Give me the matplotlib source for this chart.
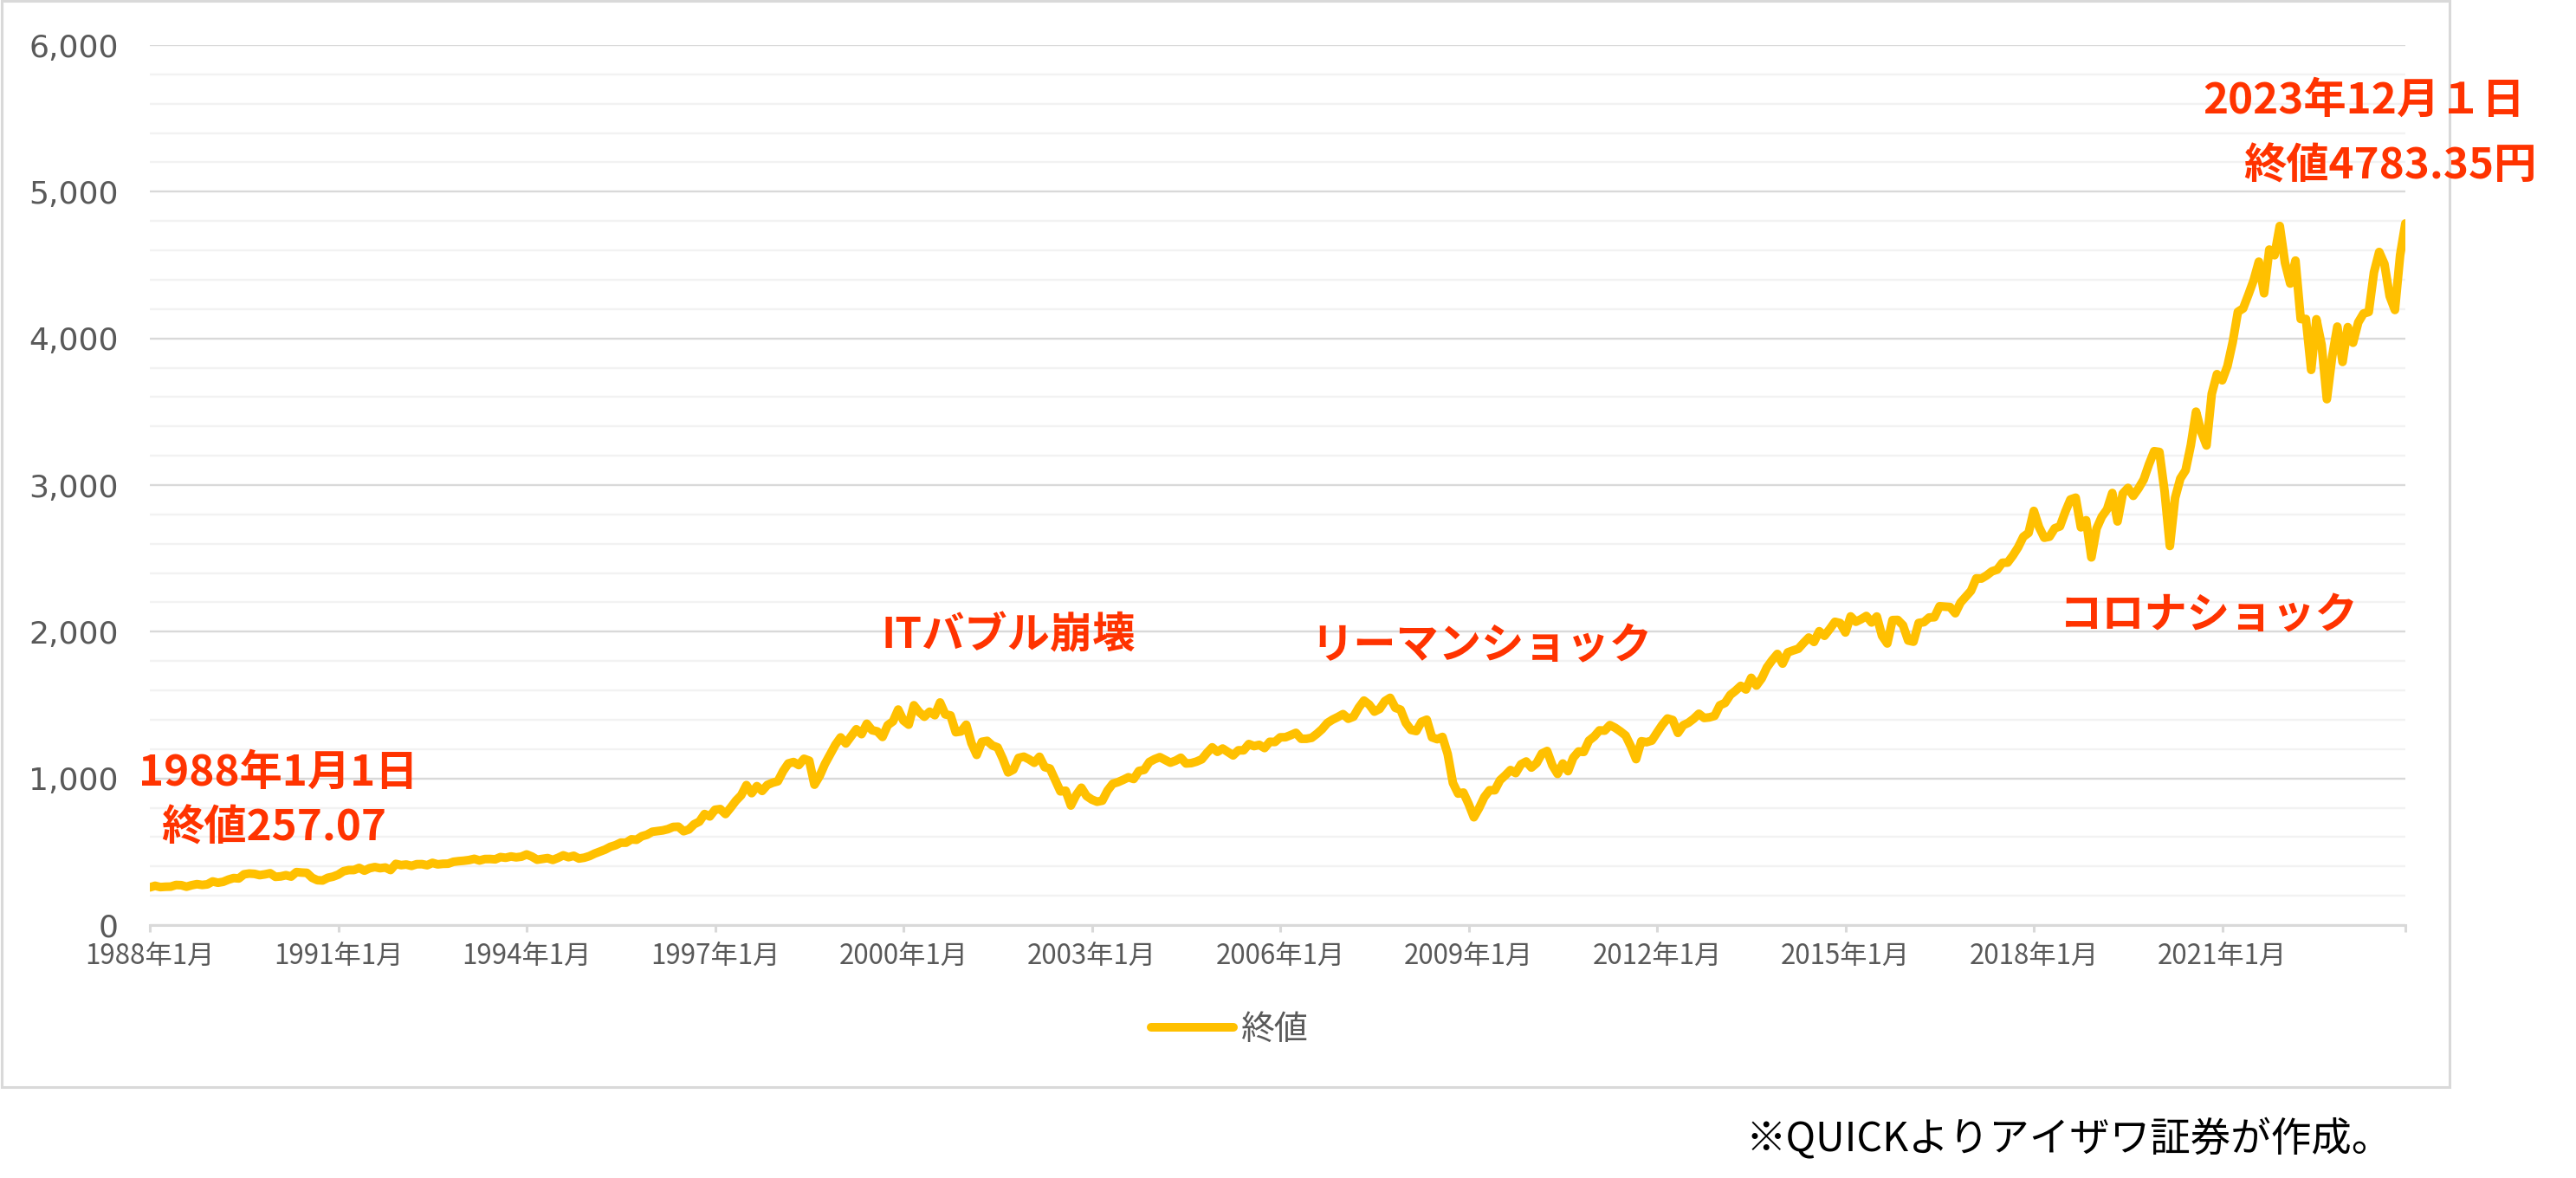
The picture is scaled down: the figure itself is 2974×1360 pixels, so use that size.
import numpy as np
import pandas as pd
import matplotlib
matplotlib.use("Agg")
import matplotlib.pyplot as plt
from matplotlib.patches import Rectangle
from matplotlib.ticker import MultipleLocator, FixedLocator

plt.rcParams['font.family'] = ['Noto Sans CJK JP', 'DejaVu Sans']

# ---------------- data (monthly closes, Jan 1988 - Dec 2023) ----------------
close_1988_1993 = [
    257.07, 267.82, 258.89, 261.33, 262.16, 273.50, 272.02, 261.52, 271.91, 278.97, 273.70, 277.72,
    297.47, 288.86, 294.87, 309.64, 320.52, 317.98, 346.08, 351.45, 349.15, 340.36, 345.99, 353.40,
    329.08, 331.89, 339.94, 330.80, 361.23, 358.02, 356.15, 322.56, 306.05, 304.00, 322.22, 330.22,
    343.93, 367.07, 375.22, 375.35, 389.83, 371.16, 387.81, 395.43, 387.86, 392.46, 375.22, 417.09,
    408.79, 412.70, 403.69, 414.95, 415.35, 408.14, 424.21, 414.03, 417.80, 418.68, 431.35, 435.71,
    438.78, 443.38, 451.67, 440.19, 450.19, 450.53, 448.13, 463.56, 458.93, 467.83, 461.79, 466.45,
]
close_1994_1999 = [
    481.61, 467.14, 445.77, 450.91, 456.50, 444.27, 458.26, 475.49, 462.69, 472.35, 453.69, 459.27,
    470.42, 487.39, 500.71, 514.71, 533.40, 544.75, 562.06, 561.88, 584.41, 581.50, 605.37, 615.93,
    636.02, 640.43, 645.50, 654.17, 669.12, 670.63, 639.95, 651.99, 687.33, 705.27, 757.02, 740.74,
    786.16, 790.82, 757.12, 801.34, 848.28, 885.14, 954.29, 899.47, 947.28, 914.62, 955.40, 970.43,
    980.28, 1049.34, 1101.75, 1111.75, 1090.82, 1133.84, 1120.67, 957.28, 1017.01, 1098.67, 1163.63, 1229.23,
    1279.64, 1238.33, 1286.37, 1335.18, 1301.84, 1372.71, 1328.72, 1320.41, 1282.71, 1362.93, 1388.91, 1469.25,
]
close_2000_2005 = [
    1394.46, 1366.42, 1498.58, 1452.43, 1420.60, 1454.60, 1430.83, 1517.68, 1436.51, 1429.40, 1314.95, 1320.28,
    1366.01, 1239.94, 1160.33, 1249.46, 1255.82, 1224.42, 1211.23, 1133.58, 1040.94, 1059.78, 1139.45, 1148.08,
    1130.20, 1106.73, 1147.39, 1076.92, 1067.14, 989.82, 911.62, 916.07, 815.28, 885.76, 936.31, 879.82,
    855.70, 841.15, 848.18, 916.92, 963.59, 974.50, 990.31, 1008.01, 995.97, 1050.71, 1058.20, 1111.92,
    1131.13, 1144.94, 1126.21, 1107.30, 1120.68, 1140.84, 1101.72, 1104.24, 1114.58, 1130.20, 1173.82, 1211.92,
    1181.27, 1203.60, 1180.59, 1156.85, 1191.50, 1191.33, 1234.18, 1220.33, 1228.81, 1207.01, 1249.48, 1248.29,
]
close_2006_2011 = [
    1280.08, 1280.66, 1294.83, 1310.61, 1270.09, 1270.20, 1276.66, 1303.82, 1335.85, 1377.94, 1400.63, 1418.30,
    1438.24, 1406.82, 1420.86, 1482.37, 1530.62, 1503.35, 1455.27, 1473.99, 1526.75, 1549.38, 1481.14, 1468.36,
    1378.55, 1330.63, 1322.70, 1385.59, 1400.38, 1280.00, 1267.38, 1282.83, 1166.36, 968.75, 896.24, 903.25,
    825.88, 735.09, 797.87, 872.81, 919.14, 919.32, 987.48, 1020.62, 1057.08, 1036.19, 1095.63, 1115.10,
    1073.87, 1104.49, 1169.43, 1186.69, 1089.41, 1030.71, 1101.60, 1049.33, 1141.20, 1183.26, 1180.55, 1257.64,
    1286.12, 1327.22, 1325.83, 1363.61, 1345.20, 1320.64, 1292.28, 1218.89, 1131.42, 1253.30, 1246.96, 1257.60,
]
close_2012_2017 = [
    1312.41, 1365.68, 1408.47, 1397.91, 1310.33, 1362.16, 1379.32, 1406.58, 1440.67, 1412.16, 1416.18, 1426.19,
    1498.11, 1514.68, 1569.19, 1597.57, 1630.74, 1606.28, 1685.73, 1632.97, 1681.55, 1756.54, 1805.81, 1848.36,
    1782.59, 1859.45, 1872.34, 1883.95, 1923.57, 1960.23, 1930.67, 2003.37, 1972.29, 2018.05, 2067.56, 2058.90,
    1994.99, 2104.50, 2067.89, 2085.51, 2107.39, 2063.11, 2103.84, 1972.18, 1920.03, 2079.36, 2080.41, 2043.94,
    1940.24, 1932.23, 2059.74, 2065.30, 2096.95, 2098.86, 2173.60, 2170.95, 2168.27, 2126.15, 2198.81, 2238.83,
    2278.87, 2363.64, 2362.72, 2384.20, 2411.80, 2423.41, 2470.30, 2471.65, 2519.36, 2575.26, 2647.58, 2673.61,
]
close_2018_2023 = [
    2823.81, 2713.83, 2640.87, 2648.05, 2705.27, 2718.37, 2816.29, 2901.52, 2913.98, 2711.74, 2760.17, 2506.85,
    2704.10, 2784.49, 2834.40, 2945.83, 2752.06, 2941.76, 2980.38, 2926.46, 2976.74, 3037.56, 3140.98, 3230.78,
    3225.52, 2954.22, 2584.59, 2912.43, 3044.31, 3100.29, 3271.12, 3500.31, 3363.00, 3269.96, 3621.63, 3756.07,
    3714.24, 3811.15, 3972.89, 4181.17, 4204.11, 4297.50, 4395.26, 4522.68, 4307.54, 4605.38, 4567.00, 4766.18,
    4515.55, 4373.94, 4530.41, 4131.93, 4132.15, 3785.38, 4130.29, 3955.00, 3585.62, 3871.98, 4080.11, 3839.50,
    4076.60, 3970.15, 4109.31, 4169.48, 4179.83, 4450.38, 4588.96, 4507.66, 4288.05, 4193.80, 4567.80, 4783.35,
]
series_name = "終値"
tick_years = [1988, 1991, 1994, 1997, 2000, 2003, 2006, 2009, 2012, 2015, 2018, 2021]
y_ticks = [0, 1000, 2000, 3000, 4000, 5000, 6000]

annotations = [
    ("1988年1月1日", 160, 892),
    ("終値257.07", 186, 956),
    ("ITバブル崩壊", 1017, 734),
    ("リーマンショック", 1513, 746),
    ("コロナショック", 2378, 711),
    ("2023年12月１日", 2543, 116),
    ("終値4783.35円", 2590, 192),
]
source_note = "※QUICKよりアイザワ証券が作成。"

# ---------------- build series ----------------
closes = np.array(close_1988_1993 + close_1994_1999 + close_2000_2005 +
                  close_2006_2011 + close_2012_2017 + close_2018_2023)
dates = pd.date_range("1988-01-01", periods=len(closes), freq="MS")
month_idx = (dates.year - 1988) * 12 + (dates.month - 1)

W, H = 2974, 1360
fig = plt.figure(figsize=(W / 100, H / 100), dpi=100)

def fx(px):
    return px / W

def fy(py):
    return 1 - py / H

ax_l, ax_r, ax_b, ax_t = 173, 2777, 1068, 52
ax = fig.add_axes([fx(ax_l), fy(ax_b), fx(ax_r - ax_l), (ax_b - ax_t) / H])

line, = ax.plot(month_idx, closes, color="#FFC000", lw=7.2,
                solid_capstyle="round", solid_joinstyle="round", label=series_name, zorder=3)

ax.set_xlim(0, month_idx[-1])
ax.set_ylim(0, 6000)

ax.yaxis.set_major_locator(FixedLocator(y_ticks))
ax.yaxis.set_minor_locator(MultipleLocator(200))
ax.set_yticklabels([f"{v:,}" for v in y_ticks], family="DejaVu Sans")
ax.grid(axis="y", which="major", color="#d9d9d9", lw=1.7)
ax.grid(axis="y", which="minor", color="#f2f2f2", lw=1.7)
ax.set_axisbelow(True)

xt = [(y - 1988) * 12 for y in tick_years]
ax.xaxis.set_major_locator(FixedLocator(xt))
ax.set_xticklabels([f"{y}年1月" for y in tick_years])
ax.xaxis.set_minor_locator(FixedLocator([month_idx[-1]]))

for s in ["top", "right", "left"]:
    ax.spines[s].set_visible(False)
ax.spines["bottom"].set_color("#d9d9d9")
ax.spines["bottom"].set_linewidth(2.2)

ax.tick_params(axis="y", which="both", length=0, pad=26, labelsize=26, labelcolor="#595959")
ax.tick_params(axis="x", which="both", length=6, width=2.2, color="#d9d9d9",
               pad=8, labelsize=22.5, labelcolor="#595959", direction="out")

fig.legend(handles=[line], loc="center", bbox_to_anchor=(fx(1420), fy(1189)),
           frameon=False, fontsize=28, handlelength=2.43, handletextpad=0.25,
           labelcolor="#595959")

for txt, px, py in annotations:
    fig.text(fx(px), fy(py), txt, ha="left", va="center", fontsize=35.5,
             fontweight="bold", color="#FF3300")

fig.text(fx(2016), fy(1315), source_note, ha="left", va="center", fontsize=33.5, color="black")

fig.patches.append(Rectangle((fx(2), fy(1255)), fx(2826), (1255 - 1) / H,
                             transform=fig.transFigure, fill=False,
                             edgecolor="#d9d9d9", lw=2.2, zorder=0))

fig.savefig("out.png", dpi=100, facecolor="white")
